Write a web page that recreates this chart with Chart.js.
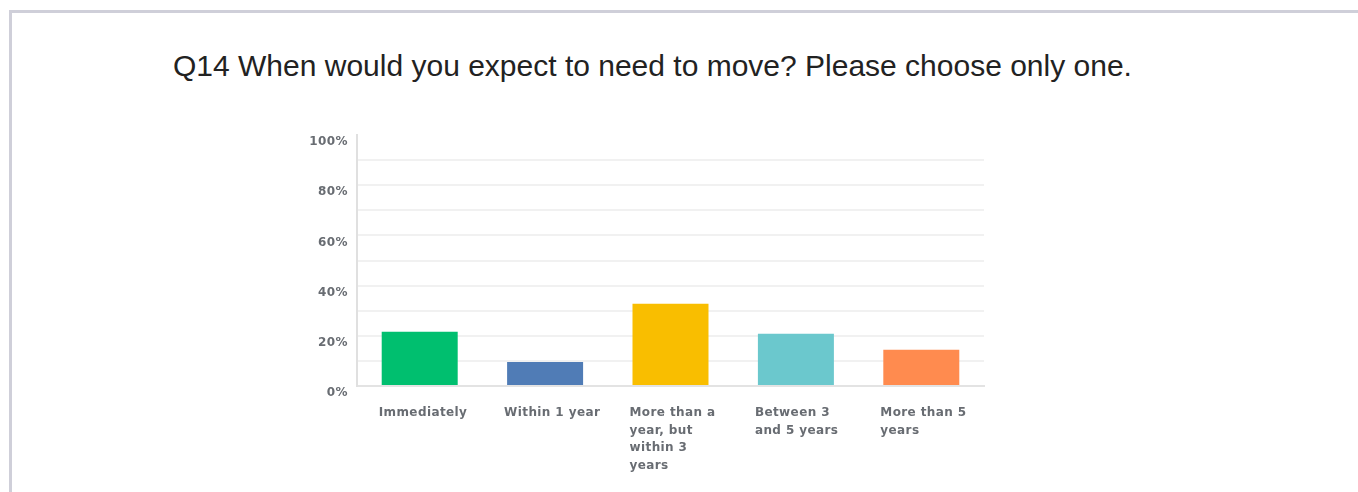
<!DOCTYPE html>
<html>
<head>
<meta charset="utf-8">
<title>Q14</title>
<script src="https://cdn.jsdelivr.net/npm/chart.js@4/dist/chart.umd.min.js"></script>
<style>
  html, body { margin: 0; padding: 0; background: #fff; }
  body { width: 1358px; height: 492px; position: relative; overflow: hidden; }
  #frame {
    position: absolute; left: 9px; top: 10px; right: -5px; bottom: -5px;
    border-top: 3px solid #cfcfd9; border-left: 3px solid #cfcfd9;
  }
  #question {
    position: absolute; left: 173px; top: 49px;
    font-family: "Liberation Sans", Arial, sans-serif; font-size: 30px; line-height: 34px;
    color: #222; white-space: nowrap;
  }
  #wrap { position: absolute; left: 0; top: 0; width: 1358px; height: 492px; }
</style>
</head>
<body>
<div id="frame"></div>
<div id="question">Q14 When would you expect to need to move? Please choose only one.</div>
<div id="wrap"><canvas id="myChart"></canvas></div>
<script>
// answer options, wrapped the way the survey shows them
let answers = [
    ["Immediately"],
    ["Within 1 year"],
    ["More than a", "year, but", "within 3", "years"],
    ["Between 3", "and 5 years"],
    ["More than 5", "years"]
]
// share of respondents, percent
let answerShare = [21.6, 9.6, 32.8, 20.8, 14.4]
let answerColors = ["#00bf6f", "#507cb6", "#f9be00", "#6bc8cd", "#ff8b4f"]
// y axis: gridline every 10, label every 20
let yMax = 100
let yStep = 10
let yLabelEvery = 20

const labelFont = { family: "'DejaVu Sans', Verdana, sans-serif", size: 12, weight: 'bold', lineHeight: 1.47 }

// the survey font is a little wider than DejaVu, so open the letters up a bit
const spacing = {
    id: 'spacing',
    beforeDraw(chart) { chart.ctx.letterSpacing = '0.4px' }
}

var ctx = document.getElementById('myChart').getContext('2d');
var myChart = new Chart(ctx, {
    type: 'bar',
    data: {
        labels: answers,
        datasets: [{
            label: 'Q14',
            data: answerShare,
            backgroundColor: answerColors,
            borderWidth: 0,
            categoryPercentage: 1,
            barPercentage: 0.606,
        }]
    },
    options: {
        responsive: true,
        maintainAspectRatio: false,
        animation: false,
        layout: { padding: { top: 135, right: 374, bottom: 0, left: 0 } },
        scales: {
            x: {
                grid: { display: false },
                border: { display: true, color: '#e3e3e3', width: 2 },
                ticks: {
                    autoSkip: false,
                    maxRotation: 0,
                    minRotation: 0,
                    align: 'start',
                    labelOffset: -41,
                    padding: 10,
                    color: '#686c72',
                    font: labelFont,
                },
                afterFit: function (scale) { scale.height = 106 },
            },
            y: {
                min: 0,
                max: yMax,
                grid: {
                    drawTicks: false,
                    lineWidth: 2,
                    color: c => c.tick && c.tick.value === yMax ? 'rgba(0,0,0,0)' : '#f1f1f1',
                },
                border: { display: true, color: '#e0e0e0', width: 2 },
                ticks: {
                    stepSize: yStep,
                    padding: 9,
                    labelOffset: 7,
                    color: '#686c72',
                    font: labelFont,
                    callback: v => v % yLabelEvery === 0 ? v + '%' : '',
                },
                afterFit: function (scale) { scale.width = 357 },
            }
        },
        plugins: {
            legend: { display: false },
            tooltip: { enabled: false },
        },
    },
    plugins: [spacing]
});
</script>
</body>
</html>
